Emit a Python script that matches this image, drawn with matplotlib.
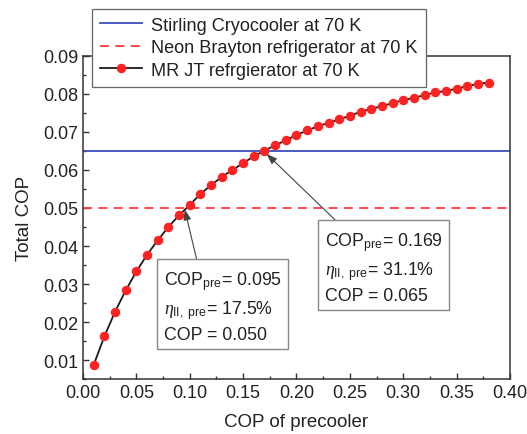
import matplotlib
matplotlib.use("Agg")
import matplotlib.pyplot as plt
from matplotlib.ticker import MultipleLocator

plt.rcParams['font.family'] = ['Liberation Sans', 'DejaVu Sans']
plt.rcParams['mathtext.fontset'] = 'custom'
plt.rcParams['mathtext.rm'] = 'Liberation Sans'
plt.rcParams['mathtext.it'] = 'Liberation Serif:italic'
plt.rcParams['mathtext.bf'] = 'Liberation Sans:bold'

# Data
cop_pre = [0.01, 0.02, 0.03, 0.04, 0.05, 0.06, 0.07, 0.08, 0.09, 0.10,
           0.11, 0.12, 0.13, 0.14, 0.15, 0.16, 0.17, 0.18, 0.19, 0.20,
           0.21, 0.22, 0.23, 0.24, 0.25, 0.26, 0.27, 0.28, 0.29, 0.30,
           0.31, 0.32, 0.33, 0.34, 0.35, 0.36, 0.37, 0.38]
cop_total = [0.0087, 0.0162, 0.0227, 0.0283, 0.0333, 0.0377, 0.0415, 0.0450, 0.0481, 0.0508,
             0.0537, 0.0560, 0.0582, 0.0600, 0.0618, 0.0636, 0.0651, 0.0665, 0.0678, 0.0692,
             0.0704, 0.0715, 0.0724, 0.0733, 0.0743, 0.0753, 0.0761, 0.0768, 0.0776, 0.0784,
             0.0790, 0.0797, 0.0804, 0.0808, 0.0814, 0.0820, 0.0827, 0.0830]
stirling_cop = 0.065
brayton_cop = 0.050
labels = ["Stirling Cryocooler at 70 K", "Neon Brayton refrigerator at 70 K",
          "MR JT refrgierator at 70 K"]
note1_xy = (0.095, 0.050)
note2_xy = (0.171, 0.0645)
note1 = "COP$_{\\mathrm{pre}}$= 0.095\n$\\eta_{\\mathrm{II,\\ pre}}$= 17.5%\nCOP = 0.050"
note2 = "COP$_{\\mathrm{pre}}$= 0.169\n$\\eta_{\\mathrm{II,\\ pre}}$= 31.1%\nCOP = 0.065"

fig = plt.figure(figsize=(5.27, 4.35), dpi=100)
ax = fig.add_axes([0.1575, 0.1264, 0.8102, 0.7426])

h1 = ax.axhline(stirling_cop, color='#3c4dbf', lw=1.3)
h2 = ax.axhline(brayton_cop, color='#ff3a3a', lw=1.3, ls=(0, (5, 3.5)))
h3, = ax.plot(cop_pre, cop_total, color='#1a1a1a', lw=1.3, marker='o',
              markersize=5.8, markerfacecolor='#ff2222', markeredgecolor='#ff2222')

ax.set_xlim(0.0, 0.40)
ax.set_ylim(0.005, 0.09)
ax.xaxis.set_minor_locator(MultipleLocator(0.025))
ax.yaxis.set_minor_locator(MultipleLocator(0.005))
ax.set_xticks([0.0, 0.05, 0.10, 0.15, 0.20, 0.25, 0.30, 0.35, 0.40])
ax.set_xticklabels(["0.00", "0.05", "0.10", "0.15", "0.20", "0.25", "0.30", "0.35", "0.40"])
ax.set_yticks([0.01, 0.02, 0.03, 0.04, 0.05, 0.06, 0.07, 0.08, 0.09])
ax.set_yticklabels(["0.01", "0.02", "0.03", "0.04", "0.05", "0.06", "0.07", "0.08", "0.09"])
ax.tick_params(which='both', direction='in', top=False, right=False,
               labelsize=13, colors='#333333', labelcolor='#222222')
ax.tick_params(which='major', length=4, width=1)
ax.tick_params(which='minor', length=2.5, width=1)
for s in ax.spines.values():
    s.set_color('#333333')
    s.set_linewidth(1.1)

ax.set_xlabel("COP of precooler", fontsize=13.5, color='#222222', labelpad=9)
ax.set_ylabel("Total COP", fontsize=13.5, color='#222222', labelpad=7)

leg = fig.legend([h1, h2, h3], labels, loc='upper left',
                 bbox_to_anchor=(0.174, 0.978), fontsize=13.1, frameon=True,
                 fancybox=False, edgecolor='#666666', framealpha=1,
                 handlelength=2.3, borderpad=0.45, labelspacing=0.3,
                 handletextpad=0.5, borderaxespad=0)
leg.get_frame().set_linewidth(0.9)
for t in leg.get_texts():
    t.set_color('#222222')

bbox = dict(boxstyle='square,pad=0.36', fc='white', ec='#888888', lw=1.0)
ax.annotate(note1, xy=note1_xy, xytext=(0.0755, 0.0339), textcoords='data',
            ha='left', va='top', fontsize=12.8, linespacing=1.38, color='#222222',
            bbox=bbox,
            arrowprops=dict(arrowstyle='-|>,head_length=0.5,head_width=0.18',
                            color='#444444', lw=0.8, relpos=(0.3, 1.0),
                            shrinkA=0, shrinkB=1))
ax.annotate(note2, xy=note2_xy, xytext=(0.2265, 0.0441), textcoords='data',
            ha='left', va='top', fontsize=12.8, linespacing=1.38, color='#222222',
            bbox=bbox,
            arrowprops=dict(arrowstyle='-|>,head_length=0.5,head_width=0.18',
                            color='#444444', lw=0.8, relpos=(0.18, 1.0),
                            shrinkA=0, shrinkB=1))

fig.savefig("out.png", dpi=100)
